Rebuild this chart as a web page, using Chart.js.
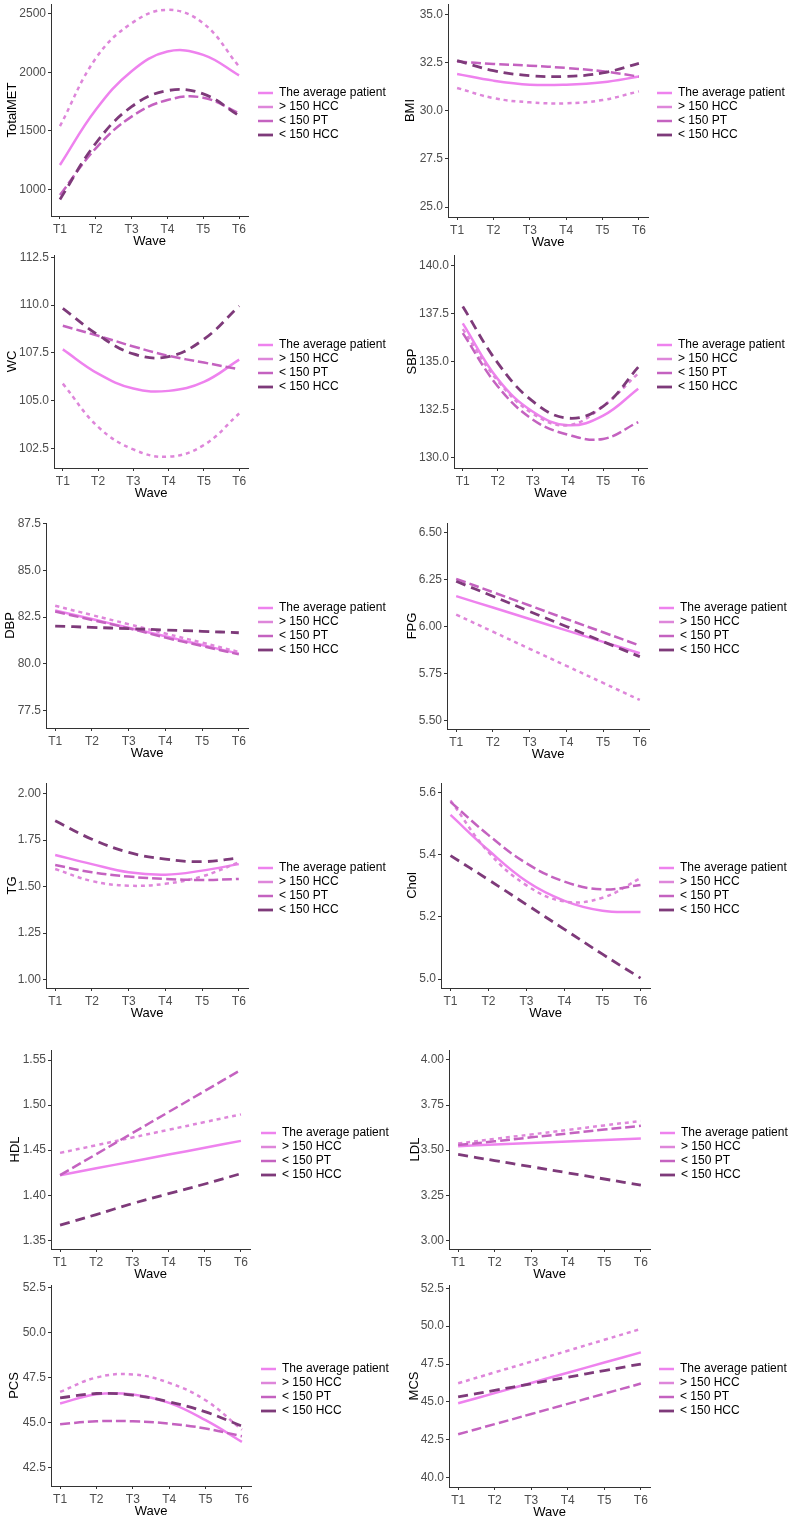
<!DOCTYPE html>
<html><head><meta charset="utf-8">
<script src="https://cdn.jsdelivr.net/npm/chart.js@4.4.1/dist/chart.umd.min.js"></script>
<style>
html,body{margin:0;padding:0;background:#fff;}
#wrap{position:relative;width:788px;height:1516px;overflow:hidden;background:#fff;}
canvas{position:absolute;}
</style></head><body><div id="wrap"></div>
<script>
// ---------- data ----------
const waveLabels = ['T1','T2','T3','T4','T5','T6'];
const seriesNames = ['The average patient', '> 150 HCC', '< 150 PT', '< 150 HCC'];

const metAvg  = [1208, 1680, 2010, 2178, 2150, 1975];
const metHCCp = [1540, 2120, 2420, 2535, 2420, 2050];
const metPT   = [952, 1351, 1622, 1764, 1784, 1650];
const metHCC  = [914, 1394, 1707, 1844, 1816, 1630];
const metTicks = [1000, 1500, 2000, 2500];

const bmiAvg  = [31.93, 31.58, 31.37, 31.37, 31.49, 31.79];
const bmiHCCp = [31.2, 30.67, 30.45, 30.4, 30.57, 31.02];
const bmiPT   = [32.57, 32.45, 32.36, 32.24, 32.07, 31.79];
const bmiHCC  = [32.62, 32.1, 31.84, 31.8, 31.98, 32.48];
const bmiTicks = [25, 27.5, 30, 32.5, 35];

const wcAvg  = [107.69, 106.42, 105.64, 105.52, 105.99, 107.15];
const wcHCCp = [105.9, 103.64, 102.46, 102.08, 102.69, 104.34];
const wcPT   = [108.92, 108.4, 107.84, 107.35, 107.0, 106.65];
const wcHCC  = [109.83, 108.44, 107.45, 107.31, 108.22, 109.96];
const wcTicks = [102.5, 105, 107.5, 110, 112.5];

const sbpAvg  = [137.0, 134.1, 132.4, 131.7, 132.2, 133.6];
const sbpHCCp = [136.7, 134.0, 132.3, 131.7, 132.7, 134.4];
const sbpPT   = [136.49, 133.72, 131.99, 131.21, 130.99, 131.87];
const sbpHCC  = [137.87, 134.93, 132.94, 132.07, 132.68, 134.72];
const sbpTicks = [130, 132.5, 135, 137.5, 140];

const dbpAvg  = [82.86, 82.4, 81.93, 81.47, 81.0, 80.54];
const dbpHCCp = [83.11, 82.61, 82.12, 81.62, 81.13, 80.63];
const dbpPT   = [82.8, 82.35, 81.9, 81.4, 80.95, 80.5];
const dbpHCC  = [82.02, 81.95, 81.88, 81.81, 81.74, 81.66];
const dbpTicks = [77.5, 80, 82.5, 85, 87.5];

const fpgAvg  = [6.163, 6.102, 6.041, 5.980, 5.919, 5.858];
const fpgHCCp = [6.064, 5.973, 5.882, 5.791, 5.700, 5.609];
const fpgPT   = [6.255, 6.184, 6.113, 6.041, 5.970, 5.899];
const fpgHCC  = [6.242, 6.162, 6.081, 6.001, 5.920, 5.840];
const fpgTicks = [5.5, 5.75, 6.0, 6.25, 6.5];

const tgAvg  = [1.670, 1.621, 1.577, 1.564, 1.586, 1.621];
const tgHCCp = [1.595, 1.530, 1.505, 1.515, 1.555, 1.630];
const tgPT   = [1.616, 1.577, 1.554, 1.541, 1.536, 1.541];
const tgHCC  = [1.854, 1.755, 1.684, 1.648, 1.634, 1.654];
const tgTicks = [1.0, 1.25, 1.5, 1.75, 2.0];

const cholAvg  = [5.529, 5.415, 5.315, 5.252, 5.220, 5.216];
const cholHCCp = [5.576, 5.409, 5.302, 5.250, 5.262, 5.325];
const cholPT   = [5.571, 5.464, 5.373, 5.314, 5.289, 5.303];
const cholHCC  = [5.398, 5.320, 5.240, 5.160, 5.080, 5.003];
const cholTicks = [5.0, 5.2, 5.4, 5.6];

const hdlAvg  = [1.4223, 1.4299, 1.4375, 1.4451, 1.4527, 1.4603];
const hdlHCCp = [1.447, 1.4555, 1.4641, 1.4726, 1.4812, 1.4897];
const hdlPT   = [1.4223, 1.4456, 1.469, 1.4923, 1.5157, 1.539];
const hdlHCC  = [1.3668, 1.3786, 1.3908, 1.4018, 1.4125, 1.4240];
const hdlTicks = [1.35, 1.40, 1.45, 1.50, 1.55];

const ldlAvg  = [3.522, 3.531, 3.539, 3.548, 3.556, 3.565];
const ldlHCCp = [3.537, 3.562, 3.587, 3.612, 3.637, 3.662];
const ldlPT   = [3.528, 3.549, 3.571, 3.592, 3.614, 3.635];
const ldlHCC  = [3.476, 3.442, 3.408, 3.374, 3.340, 3.306];
const ldlTicks = [3.0, 3.25, 3.5, 3.75, 4.0];

const pcsAvg  = [46.06, 46.57, 46.56, 46.09, 45.13, 43.93];
const pcsHCCp = [46.70, 47.50, 47.67, 47.20, 46.24, 44.60];
const pcsPT   = [44.91, 45.07, 45.07, 44.94, 44.67, 44.24];
const pcsHCC  = [46.37, 46.61, 46.52, 46.15, 45.59, 44.80];
const pcsTicks = [42.5, 45, 47.5, 50, 52.5];

const mcsAvg  = [44.91, 45.58, 46.25, 46.93, 47.60, 48.27];
const mcsHCCp = [46.23, 46.95, 47.66, 48.38, 49.10, 49.82];
const mcsPT   = [42.86, 43.53, 44.20, 44.87, 45.54, 46.21];
const mcsHCC  = [45.33, 45.76, 46.20, 46.63, 47.07, 47.50];
const mcsTicks = [40, 42.5, 45, 47.5, 50, 52.5];

// ---------- panels (data refs + y ranges) ----------
const panels = [
  {name:'TotalMET', s:[metAvg,metHCCp,metPT,metHCC], ticks:metTicks, dec:0, min:772, max:2585},
  {name:'BMI', s:[bmiAvg,bmiHCCp,bmiPT,bmiHCC], ticks:bmiTicks, dec:1, min:24.48, max:35.57},
  {name:'WC', s:[wcAvg,wcHCCp,wcPT,wcHCC], ticks:wcTicks, dec:1, min:101.49, max:112.62},
  {name:'SBP', s:[sbpAvg,sbpHCCp,sbpPT,sbpHCC], ticks:sbpTicks, dec:1, min:129.48, max:140.55},
  {name:'DBP', s:[dbpAvg,dbpHCCp,dbpPT,dbpHCC], ticks:dbpTicks, dec:1, min:76.55, max:87.55},
  {name:'FPG', s:[fpgAvg,fpgHCCp,fpgPT,fpgHCC], ticks:fpgTicks, dec:2, min:5.454, max:6.553},
  {name:'TG', s:[tgAvg,tgHCCp,tgPT,tgHCC], ticks:tgTicks, dec:2, min:0.955, max:2.057},
  {name:'Chol', s:[cholAvg,cholHCCp,cholPT,cholHCC], ticks:cholTicks, dec:1, min:4.971, max:5.632},
  {name:'HDL', s:[hdlAvg,hdlHCCp,hdlPT,hdlHCC], ticks:hdlTicks, dec:2, min:1.3404, max:1.5611},
  {name:'LDL', s:[ldlAvg,ldlHCCp,ldlPT,ldlHCC], ticks:ldlTicks, dec:2, min:2.952, max:4.055},
  {name:'PCS', s:[pcsAvg,pcsHCCp,pcsPT,pcsHCC], ticks:pcsTicks, dec:1, min:41.48, max:52.63},
  {name:'MCS', s:[mcsAvg,mcsHCCp,mcsPT,mcsHCC], ticks:mcsTicks, dec:1, min:39.38, max:52.72}
];

// ---------- layout (page px) ----------
// [canvasLeft, plotLeft, plotTop, plotBottom, plotRight, yTitleX, legendTextX, legendRowY]
const layoutBoxes = [
  [0,   51,  4,    216,  248, 12,  279, 93],
  [394, 448, 4,    217,  648, 410, 678, 93],
  [0,   54,  255,  468,  248, 12,  279, 345],
  [394, 454, 255,  468,  647, 412, 678, 345],
  [0,   46,  523,  728,  248, 10,  279, 608],
  [394, 447, 523,  729,  649, 412, 680, 608],
  [0,   46,  783,  988,  248, 12,  279, 868],
  [394, 441, 783,  988,  650, 412, 680, 868],
  [0,   51,  1050, 1249, 250, 15,  282, 1133],
  [394, 449, 1050, 1249, 650, 415, 681, 1133],
  [0,   51,  1285, 1486, 251, 14,  282, 1369],
  [394, 449, 1285, 1487, 650, 414, 680, 1369]
];

const FONT = "'Liberation Sans', Arial, Helvetica, sans-serif";
const styles = [
  {color:'#EE82EE', dash:[],     width:2.5},
  {color:'#DE86DA', dash:[4,4],  width:2.5},
  {color:'#C462C0', dash:[10,4], width:2.5},
  {color:'#7E3A7A', dash:[10,6], width:2.8}
];
const CW = 394, LEG_W = 60, TOP_PAD = 10, XAX_H = 37;
const wrap = document.getElementById('wrap');

panels.forEach((p, idx) => {
  const [cl, pl, pt, pb, pr, ytx, ltx, lry] = layoutBoxes[idx];
  const ct = pt - TOP_PAD;
  const ch = pb + XAX_H - ct;
  const cv = document.createElement('canvas');
  cv.width = CW; cv.height = ch;
  cv.style.left = cl + 'px'; cv.style.top = ct + 'px';
  cv.style.width = CW + 'px'; cv.style.height = ch + 'px';
  wrap.appendChild(cv);

  const placer = {
    id: 'placer' + idx,
    afterLayout(chart) {
      const lg = chart.legend; if (!lg) return;
      const left = ltx - cl - 23;
      const top = lry - ct - 8;
      lg.left = left; lg.right = chart.width; lg.width = chart.width - left;
      lg.top = top; lg.bottom = chart.height; lg.height = chart.height - top;
    }
  };

  const datasets = p.s.map((arr, k) => ({
    label: seriesNames[k],
    data: arr.map((v, i) => ({x: i + 1, y: v})),
    borderColor: styles[k].color,
    backgroundColor: styles[k].color,
    borderWidth: styles[k].width,
    borderDash: styles[k].dash,
    pointRadius: 0, pointHoverRadius: 0,
    tension: 0.4, fill: false,
    order: 3 - k
  }));

  const axisCommon = {
    grid: {display: true, drawOnChartArea: false, drawTicks: true, tickLength: 3, color: '#333'},
    border: {display: true, color: '#333', width: 1}
  };

  new Chart(cv, {
    type: 'line',
    data: {datasets},
    plugins: [placer],
    options: {
      responsive: false, animation: false, devicePixelRatio: 1,
      events: [],
      layout: {padding: {top: TOP_PAD, left: 0, bottom: 0, right: CW - (pr - cl) - LEG_W}},
      plugins: {
        tooltip: {enabled: false},
        legend: {
          display: true, position: 'right', align: 'start', maxWidth: LEG_W,
          labels: {
            usePointStyle: true, pointStyle: 'line', pointStyleWidth: 15,
            padding: 2, color: '#000', font: {family: FONT, size: 12},
            sort: (a, b) => a.datasetIndex - b.datasetIndex
          }
        }
      },
      scales: {
        x: Object.assign({}, axisCommon, {
          type: 'linear', min: 0.75, max: 6.25,
          afterFit(s) { s.height = XAX_H; },
          afterBuildTicks(s) { s.ticks = waveLabels.map((_, i) => ({value: i + 1})); },
          ticks: {callback: v => waveLabels[v - 1], color: '#4D4D4D', font: {family: FONT, size: 12},
                  padding: 3, maxRotation: 0, autoSkip: false},
          title: {display: true, text: 'Wave', color: '#000', font: {family: FONT, size: 13},
                  padding: {top: 0, bottom: 4}}
        }),
        y: Object.assign({}, axisCommon, {
          type: 'linear', min: p.min, max: p.max,
          afterFit(s) { s.width = pl - cl; },
          afterBuildTicks(s) { s.ticks = p.ticks.map(v => ({value: v})); },
          ticks: {callback: v => Number(v).toFixed(p.dec), color: '#4D4D4D', font: {family: FONT, size: 12},
                  padding: 2, autoSkip: false},
          title: {display: true, text: p.name, color: '#000', font: {family: FONT, size: 13},
                  padding: {top: Math.max(0, ytx - cl - 7.8), bottom: 0}}
        })
      }
    }
  });
});
</script></body></html>
